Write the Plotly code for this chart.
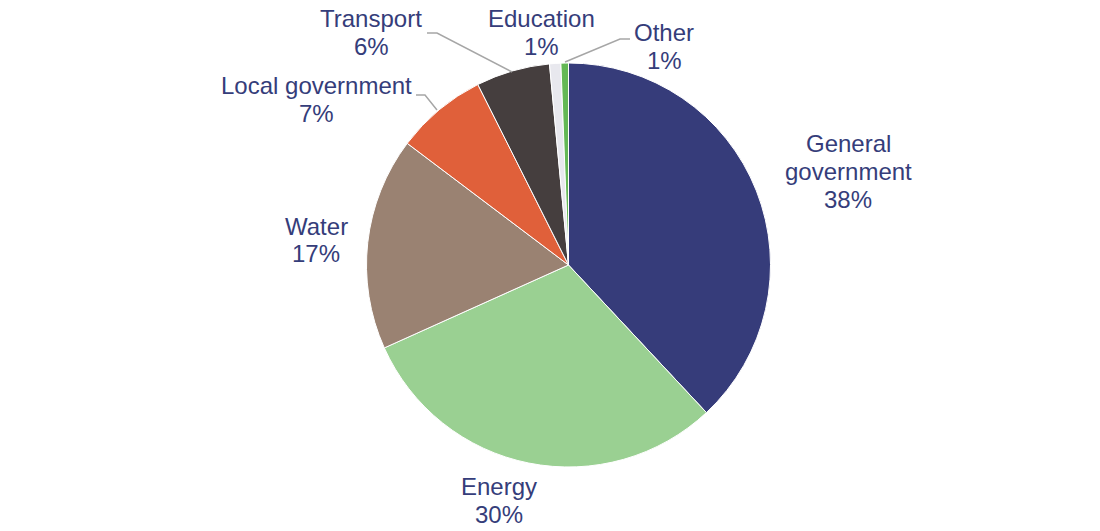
import plotly.graph_objects as go

W, H = 1100, 531
OFF = 8  # page body margin in the browser

# slices in clockwise order from 12 o'clock
sectors = ["General government", "Energy", "Water", "Local government",
           "Transport", "Education", "Other"]
shares = [38.0, 30.2, 17.0, 7.3, 5.9, 0.9, 0.6]
colours = ["#363C7A", "#9AD092", "#9A8272", "#E0603A", "#453E3E", "#E8E8EE", "#64B855"]

label_lines = {"General government": ["General", "government"]}

# label centres in pixels (x, y from top) of the screenshot
label_pos = {
    "General government": (848, 171),
    "Energy": (499, 500),
    "Water": (316, 240),
    "Local government": (316, 100),
    "Transport": (371, 33),
    "Education": (541, 33),
    "Other": (664, 46),
}
LINE = 28

# leader lines in pixels
leaders = [
    [(416, 95), (425, 95), (437, 110)],
    [(427, 33), (437, 33), (512, 72)],
    [(630, 39), (620, 39), (565, 62)],
]

def px(x, y):
    return (x - OFF) / W, 1 - (y - OFF) / H

cx, cy, r = 568.5 - OFF, 265 - OFF, 202

fig = go.Figure(go.Pie(
    labels=sectors,
    values=shares,
    marker=dict(colors=colours, line=dict(color="white", width=1)),
    sort=False,
    direction="clockwise",
    rotation=0,
    textinfo="none",
    hoverinfo="label+percent",
    domain=dict(x=[(cx - r) / W, (cx + r) / W], y=[(H - cy - r) / H, (H - cy + r) / H]),
    showlegend=False,
))

total = sum(shares)
for name, v in zip(sectors, shares):
    lines = label_lines.get(name, [name]) + ["%d%%" % round(v / total * 100)]
    lx, ly = label_pos[name]
    top = ly - LINE * (len(lines) - 1) / 2
    for i, t in enumerate(lines):
        x, y = px(lx, top + i * LINE)
        fig.add_annotation(x=x, y=y, xref="paper", yref="paper", text=t,
                           showarrow=False, xanchor="center", yanchor="middle",
                           font=dict(family="Liberation Sans, Arial", size=24, color="#353D7A"))

for pts in leaders:
    path = "M " + " L ".join("%f,%f" % px(*p) for p in pts)
    fig.add_shape(type="path", path=path, xref="paper", yref="paper",
                  line=dict(color="#A6A6A6", width=1.5))

fig.update_layout(
    width=W, height=H,
    margin=dict(l=0, r=0, t=0, b=0),
    paper_bgcolor="white",
    plot_bgcolor="white",
)

fig.write_html("out.html")
